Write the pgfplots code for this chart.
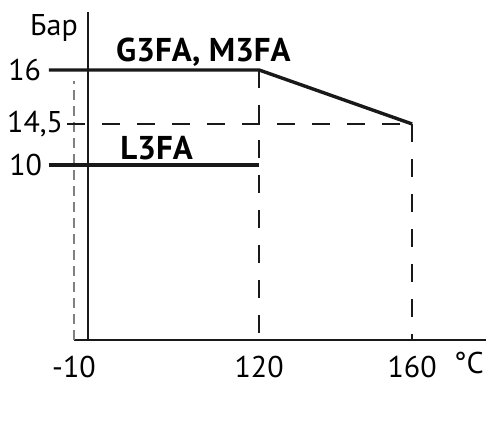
\documentclass[border=0pt]{standalone}
\usepackage{pgfplots}
\pgfplotsset{compat=1.18}
\usepackage{fontspec}
\setmainfont{PT Sans}
\definecolor{dashgray}{RGB}{128,128,128}
\begin{document}
\begin{tikzpicture}
\path[use as bounding box] (0,0) rectangle (501bp,-428bp);
\begin{axis}[
  at={(74bp,-340bp)}, anchor=south west,
  scale only axis, width=412bp, height=328bp,
  x coord trafo/.code={\pgfmathparse{(#1<=120) ? (#1/130*185) : (170.769+(#1-120)/40*153)}},
  y coord trafo/.code={\pgfmathparse{(#1<=10) ? (#1*17.5) : ((#1<=14.5) ? (175+(#1-10)/4.5*41) : (216+(#1-14.5)*36))}},
  xmin=-10, xmax=179.3, ymin=0, ymax=17.61,
  axis lines=center,
  axis line style={-, line width=2.2bp, black!90},
  clip=false,
  xtick={-10,120,160}, xticklabels={-10,120,160},
  ytick={10,14.5,16}, yticklabels={10\kern21bp,{14,5},16\kern22bp},
  major tick length=0pt,
  tick style={draw=none},
  xticklabel style={anchor=north, inner sep=0pt, yshift=-16bp, font=\fontsize{30bp}{36bp}\selectfont},
  yticklabel style={anchor=east, inner sep=0pt, xshift=-25bp, font=\fontsize{30bp}{36bp}\selectfont},
  xlabel={°C}, ylabel={Бар},
  every axis x label/.style={at={(rel axis cs:1,0)}, anchor=north east, inner sep=0pt, xshift=-2bp, yshift=-12bp, font=\fontsize{30bp}{36bp}\selectfont},
  every axis y label/.style={at={(rel axis cs:0,1)}, anchor=north east, inner sep=0pt, xshift=4bp, yshift=-2bp, font=\fontsize{30bp}{36bp}\selectfont},
]
% reference dashed lines
\addplot[dashgray, line width=1.6bp, dash pattern=on 10bp off 6bp] coordinates {(-10,0) (-10,15.7)};
\addplot[black!90, line width=2.3bp, dash pattern=on 18bp off 17bp] coordinates {(-14.9,14.5) (160,14.5)};
\addplot[black!90, line width=2.3bp, dash pattern=on 18bp off 17bp] coordinates {(120,16) (120,0)};
\addplot[black!90, line width=2.3bp, dash pattern=on 18bp off 17bp] coordinates {(160,14.5) (160,0)};
% limit lines
\addplot[black!90, line width=3.4bp] coordinates {(-27.6,16) (120,16) (160,14.5)};
\addplot[black!90, line width=3.4bp] coordinates {(-27.6,10) (120,10)};
\node[anchor=base west, inner sep=0pt, font=\bfseries\fontsize{33bp}{38bp}\selectfont] at (rel axis cs:0.102,0.848) {G3FA, M3FA};
\node[anchor=base west, inner sep=0pt, font=\bfseries\fontsize{33bp}{38bp}\selectfont] at (rel axis cs:0.112,0.549) {L3FA};
\end{axis}
\end{tikzpicture}
\end{document}
